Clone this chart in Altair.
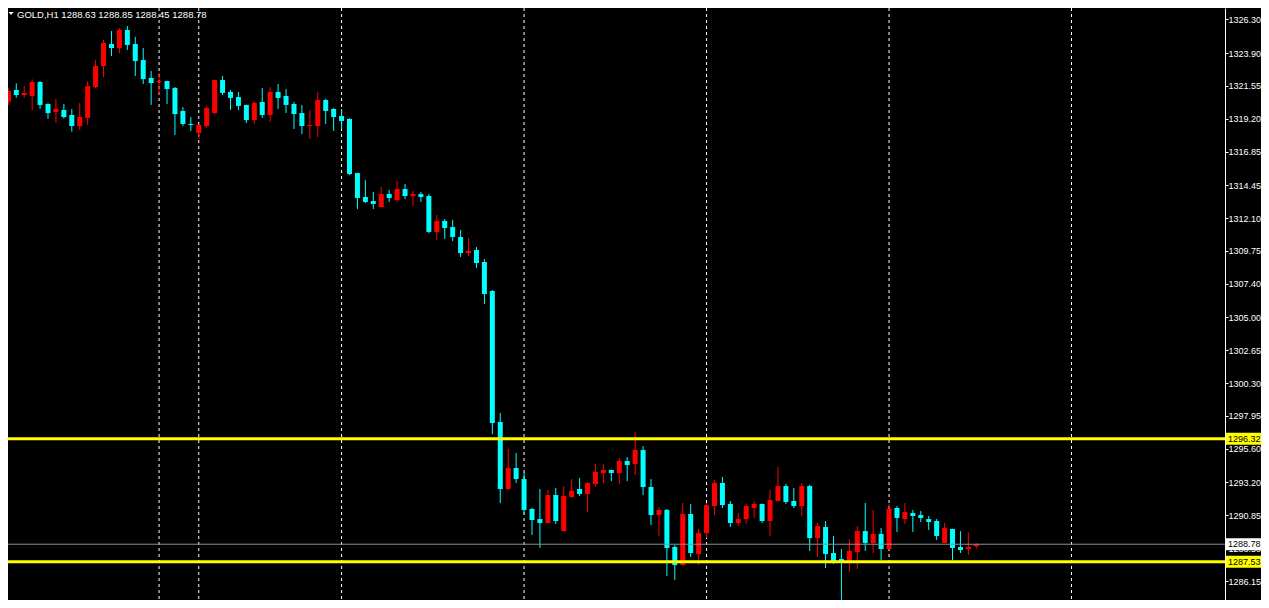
import altair as alt
import pandas as pd

symbol = "GOLD,H1"

opens = [
    1320.42, 1321.26, 1320.90, 1320.83, 1321.83, 1320.26, 1319.69, 1319.83, 1319.47, 1318.68,
    1319.26, 1321.47, 1322.97, 1324.55, 1324.26, 1325.55, 1324.55, 1323.40, 1322.12, 1321.83,
    1321.90, 1321.40, 1319.76, 1318.83, 1318.18, 1318.68, 1319.61, 1321.97, 1321.12, 1320.76,
    1320.19, 1319.11, 1320.40, 1319.47, 1321.12, 1320.83, 1320.26, 1319.61, 1318.68, 1318.68,
    1320.54, 1319.90, 1319.40, 1319.19, 1315.32, 1313.61, 1313.32, 1312.89, 1313.82, 1313.39,
    1314.18, 1313.68, 1313.82, 1313.68, 1311.11, 1311.89, 1311.46, 1310.75, 1309.60, 1309.82,
    1308.96, 1306.89, 1297.52, 1292.73, 1294.23, 1293.44, 1291.30, 1290.58, 1290.30, 1292.30,
    1289.72, 1292.16, 1292.73, 1292.37, 1293.09, 1293.87, 1294.09, 1293.87, 1294.73, 1294.51,
    1295.52, 1292.87, 1290.87, 1291.23, 1288.58, 1287.29, 1290.94, 1288.08, 1289.58, 1291.51,
    1293.16, 1291.66, 1290.30, 1290.58, 1291.37, 1291.66, 1290.44, 1291.87, 1292.94, 1291.87,
    1291.51, 1292.94, 1289.22, 1290.01, 1288.15, 1287.72, 1287.58, 1288.22, 1289.72, 1288.87,
    1289.51, 1288.44, 1291.37, 1290.58, 1291.01, 1290.87, 1290.58, 1290.44, 1288.87, 1289.87,
    1288.58, 1288.44, 1288.63,
]

highs = [
    1321.38, 1321.74, 1321.54, 1322.02, 1321.90, 1320.30, 1320.62, 1320.26, 1319.90, 1320.33,
    1321.90, 1323.40, 1324.83, 1325.48, 1325.69, 1325.84, 1325.05, 1324.26, 1322.62, 1322.47,
    1321.92, 1321.47, 1320.04, 1319.33, 1318.78, 1320.12, 1321.99, 1322.26, 1321.26, 1321.12,
    1320.21, 1320.47, 1321.40, 1321.47, 1321.69, 1321.33, 1320.40, 1320.19, 1319.83, 1321.12,
    1320.62, 1319.97, 1319.90, 1319.24, 1315.34, 1314.82, 1313.97, 1314.32, 1314.11, 1314.75,
    1314.54, 1314.04, 1313.97, 1313.82, 1312.32, 1312.03, 1311.96, 1311.25, 1310.68, 1310.03,
    1309.17, 1306.96, 1298.16, 1295.59, 1295.30, 1293.94, 1291.37, 1292.73, 1292.66, 1292.80,
    1292.94, 1293.44, 1293.51, 1293.23, 1294.51, 1294.51, 1294.11, 1294.95, 1295.02, 1296.80,
    1295.80, 1293.44, 1291.44, 1291.30, 1288.73, 1291.73, 1291.66, 1289.87, 1291.73, 1293.37,
    1293.59, 1291.87, 1291.01, 1291.66, 1291.87, 1291.68, 1292.66, 1294.30, 1293.09, 1292.80,
    1293.16, 1293.02, 1290.30, 1290.44, 1289.37, 1288.44, 1289.15, 1290.08, 1291.73, 1291.23,
    1289.94, 1291.66, 1291.51, 1291.73, 1291.23, 1291.16, 1290.80, 1290.58, 1290.30, 1289.89,
    1289.72, 1289.62, 1288.85,
]

lows = [
    1320.19, 1320.71, 1320.71, 1319.78, 1319.92, 1319.19, 1318.92, 1319.21, 1318.28, 1318.40,
    1318.76, 1321.40, 1322.19, 1323.69, 1323.90, 1324.12, 1322.26, 1321.69, 1320.19, 1320.90,
    1320.26, 1318.04, 1318.68, 1318.33, 1317.76, 1318.54, 1319.54, 1320.90, 1319.83, 1319.83,
    1318.90, 1318.83, 1319.26, 1318.97, 1319.90, 1319.61, 1318.47, 1318.11, 1317.76, 1317.90,
    1318.83, 1318.33, 1318.47, 1315.18, 1312.75, 1313.18, 1312.75, 1312.87, 1313.25, 1313.25,
    1313.46, 1312.96, 1313.25, 1311.03, 1310.53, 1310.60, 1310.46, 1309.32, 1309.39, 1308.53,
    1305.96, 1296.66, 1291.73, 1292.70, 1293.16, 1290.94, 1289.44, 1288.51, 1290.28, 1290.23,
    1289.70, 1292.09, 1292.23, 1291.08, 1292.87, 1293.16, 1293.30, 1293.09, 1293.30, 1293.73,
    1292.30, 1290.15, 1289.37, 1286.51, 1286.22, 1287.27, 1287.87, 1287.29, 1289.22, 1290.87,
    1291.37, 1290.01, 1290.08, 1290.23, 1290.66, 1290.30, 1289.37, 1291.85, 1291.66, 1291.37,
    1290.80, 1288.30, 1287.87, 1287.08, 1287.37, 1284.72, 1286.79, 1287.01, 1288.30, 1288.15,
    1287.65, 1288.37, 1289.65, 1290.23, 1289.65, 1290.37, 1289.80, 1289.08, 1288.85, 1287.65,
    1288.15, 1288.01, 1288.45,
]

closes = [
    1321.19, 1320.90, 1321.05, 1321.83, 1320.19, 1319.61, 1319.90, 1319.33, 1318.68, 1319.33,
    1321.54, 1322.97, 1324.62, 1324.26, 1325.55, 1324.48, 1323.33, 1322.04, 1321.76, 1321.90,
    1321.33, 1319.54, 1318.83, 1318.76, 1318.76, 1319.97, 1321.97, 1321.05, 1320.69, 1320.12,
    1319.11, 1320.33, 1319.47, 1321.12, 1320.69, 1320.19, 1319.54, 1318.68, 1318.76, 1320.54,
    1319.76, 1319.33, 1319.04, 1315.25, 1313.54, 1313.25, 1313.11, 1313.82, 1313.54, 1314.18,
    1313.68, 1313.82, 1313.61, 1311.11, 1311.89, 1311.39, 1310.75, 1309.60, 1309.75, 1308.89,
    1306.67, 1297.45, 1292.73, 1294.23, 1293.44, 1291.23, 1290.51, 1290.30, 1292.30, 1290.44,
    1292.23, 1292.59, 1292.37, 1293.16, 1293.94, 1294.09, 1293.87, 1294.73, 1294.44, 1295.52,
    1292.87, 1290.87, 1291.23, 1288.51, 1287.29, 1290.94, 1288.15, 1289.58, 1291.58, 1293.16,
    1291.58, 1290.30, 1290.58, 1291.51, 1291.66, 1290.44, 1291.94, 1292.94, 1291.80, 1291.51,
    1292.94, 1289.22, 1290.08, 1288.08, 1287.58, 1287.58, 1288.30, 1289.72, 1288.87, 1289.51,
    1288.44, 1291.30, 1290.66, 1291.08, 1290.80, 1290.66, 1290.37, 1289.37, 1289.94, 1288.51,
    1288.37, 1288.58, 1288.78,
]

tick_values = [1326.30, 1323.90, 1321.55, 1319.20, 1316.85, 1314.45, 1312.10, 1309.75,
               1307.40, 1305.00, 1302.65, 1300.30, 1297.95, 1295.60, 1293.20, 1290.85,
               1288.50, 1286.15]
levels = [1296.32, 1287.53]
separators = [19, 24, 42, 65, 88, 111, 134]

n = len(opens)
assert len(highs) == n and len(lows) == n and len(closes) == n

df = pd.DataFrame({
    "i": list(range(n)),
    "o": opens, "h": highs, "l": lows, "c": closes,
})
df["dir"] = ["up" if c > o else "down" for o, c in zip(opens, closes)]

bid = closes[-1]
title_text = f"{symbol}  {opens[-1]:.2f} {highs[-1]:.2f} {lows[-1]:.2f} {closes[-1]:.2f}"

FONT = "Liberation Sans"
FS = 9
xs = alt.Scale(domain=[0.5875, 152.7125], nice=False, zero=False)
ys = alt.Scale(domain=[1284.792, 1327.122], nice=False, zero=False)
yaxis = alt.Axis(
    orient="right", values=tick_values, format=".2f", grid=False, title=None,
    domain=True, domainColor="#ffffff", domainWidth=1, ticks=True, tickColor="#ffffff",
    tickSize=3, tickWidth=1, labels=True, labelColor="#ffffff", labelFont=FONT,
    labelFontSize=FS, labelPadding=0, labelAlign="left", labelBaseline="middle",
    labelOverlap=False, labelBound=False, labelFlush=False)
col = alt.Color("dir:N", scale=alt.Scale(domain=["up", "down"], range=["#ff0000", "#00ffff"]), legend=None)


def Y(field):
    return alt.Y(field, scale=ys, axis=yaxis, title=None)


base = alt.Chart(df)

sep = alt.Chart(pd.DataFrame({"s": separators})).mark_rule(
    color="#ffffff", strokeWidth=1, strokeDash=[3, 3], clip=True
).encode(x=alt.X("s:Q", scale=xs, axis=None))

wicks = base.mark_rule(strokeWidth=1, clip=True).encode(
    x=alt.X("i:Q", scale=xs, axis=None),
    y=Y("l:Q"),
    y2="h:Q",
    color=col,
)

bodies = base.mark_bar(size=5, clip=True).encode(
    x=alt.X("i:Q", scale=xs, axis=None),
    y=Y("o:Q"),
    y2="c:Q",
    color=col,
)

bid_df = pd.DataFrame({"p": [bid], "t": [f"{bid:.2f}"]})
lev_df = pd.DataFrame({"p": levels, "t": [f"{v:.2f}" for v in levels]})

bid_line = alt.Chart(bid_df).mark_rule(color="#8c9096", strokeWidth=1).encode(y=Y("p:Q"))
lev_lines = alt.Chart(lev_df).mark_rule(color="#ffff00", strokeWidth=3).encode(y=Y("p:Q"))

box_shape = "M-1,-0.2857 L1,-0.2857 L1,0.2857 L-1,0.2857 Z"
bid_box = alt.Chart(bid_df).mark_point(shape=box_shape, size=1764, filled=True, opacity=1,
                                       color="#ffffff", strokeWidth=0).encode(
    x=alt.value(1239), y=Y("p:Q"))
lev_box = alt.Chart(lev_df).mark_point(shape=box_shape, size=1764, filled=True, opacity=1,
                                       color="#ffff00", strokeWidth=0).encode(
    x=alt.value(1239), y=Y("p:Q"))
bid_txt = alt.Chart(bid_df).mark_text(align="left", baseline="middle", font=FONT,
                                      fontSize=FS, color="#000000").encode(
    x=alt.value(1220), y=Y("p:Q"), text="t:N")
lev_txt = alt.Chart(lev_df).mark_text(align="left", baseline="middle", font=FONT,
                                      fontSize=FS, color="#000000").encode(
    x=alt.value(1220), y=Y("p:Q"), text="t:N")

title_df = pd.DataFrame({"t": [title_text]})
title = alt.Chart(title_df).mark_text(align="left", baseline="middle", font=FONT,
                                      fontSize=9.5, color="#ffffff").encode(
    x=alt.value(9), y=alt.value(6.5), text="t:N")
tri = alt.Chart(title_df).mark_point(shape="M-1,-0.6 L1,-0.6 L0,0.6 Z", size=25, filled=True,
                                     opacity=1, color="#ffffff", strokeWidth=0).encode(
    x=alt.value(3), y=alt.value(5.5))

chart = alt.layer(
    sep, wicks, bodies, bid_line, lev_lines, bid_box, lev_box, bid_txt, lev_txt, title, tri
).properties(
    width=1217, height=592,
    autosize=alt.AutoSizeParams(type="none"),
    padding={"left": 0, "top": 0, "right": 36, "bottom": 0},
    background="#000000",
).configure_view(strokeWidth=0)

chart.save("out.html", embed_options={"renderer": "svg", "actions": False})
